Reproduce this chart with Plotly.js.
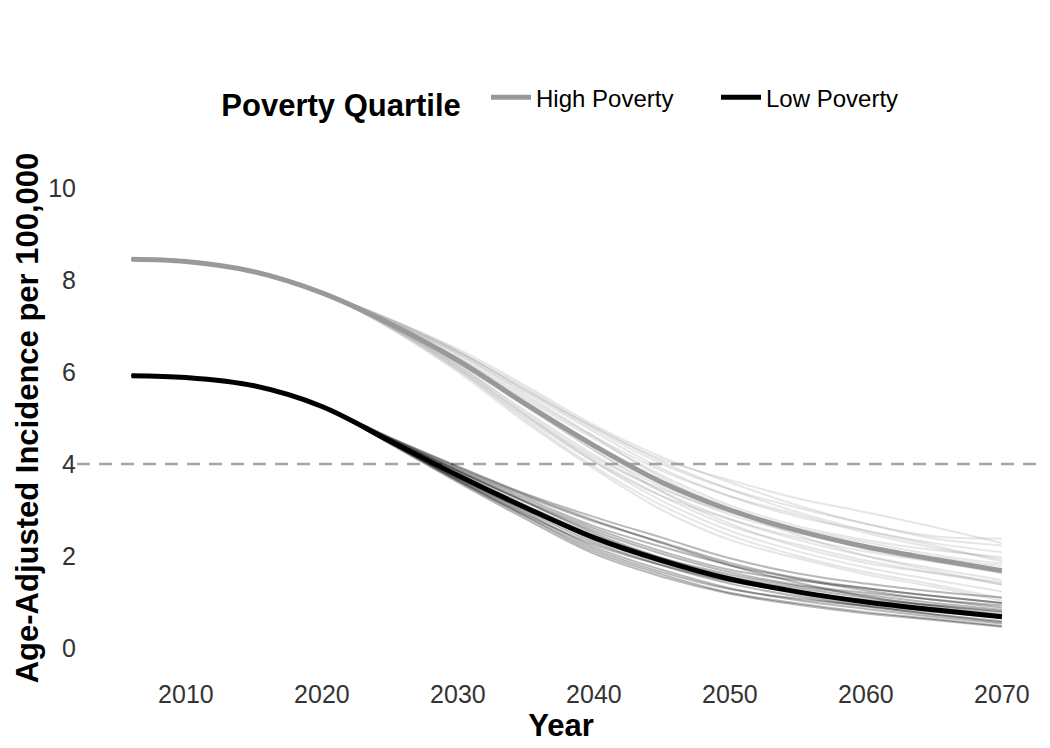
<!DOCTYPE html>
<html>
<head>
<meta charset="utf-8">
<script src="https://cdn.plot.ly/plotly-3.0.1.min.js"></script>
<style>html,body{margin:0;padding:0;background:#fff;}#chart{width:1050px;height:748px;}</style>
</head>
<body>
<div id="chart"></div>
<script>
// Years at which values are read
const years = [2006, 2010, 2015, 2020, 2025, 2030, 2035, 2040, 2045, 2050, 2055, 2060, 2065, 2070];

// Mean trajectories
const highMean = [8.45, 8.4, 8.18, 7.72, 7.05, 6.25, 5.3, 4.4, 3.6, 3.0, 2.55, 2.2, 1.93, 1.68];
const lowMean  = [5.92, 5.88, 5.7, 5.25, 4.5, 3.75, 3.05, 2.4, 1.9, 1.5, 1.22, 1.0, 0.83, 0.68];

// Individual simulation runs, High Poverty
const highRuns = [
  [8.45, 8.4, 8.18, 7.72, 7.15, 6.5, 5.7, 4.85, 4.15, 3.6, 3.1, 2.7, 2.43, 2.38],
  [8.45, 8.4, 8.18, 7.72, 7.13, 6.45, 5.6, 4.75, 4.0, 3.45, 3.05, 2.7, 2.38, 2.23],
  [8.45, 8.4, 8.18, 7.72, 7.1, 6.4, 5.55, 4.7, 3.9, 3.3, 2.85, 2.55, 2.28, 2.08],
  [8.45, 8.4, 8.18, 7.72, 7.1, 6.35, 5.45, 4.6, 3.85, 3.3, 2.9, 2.5, 2.18, 1.93],
  [8.45, 8.4, 8.18, 7.72, 7.08, 6.3, 5.4, 4.55, 3.75, 3.1, 2.65, 2.35, 2.13, 1.98],
  [8.45, 8.4, 8.18, 7.72, 7.05, 6.3, 5.35, 4.45, 3.65, 3.05, 2.55, 2.15, 1.88, 1.63],
  [8.45, 8.4, 8.18, 7.72, 7.03, 6.2, 5.25, 4.3, 3.5, 2.9, 2.5, 2.2, 1.98, 1.78],
  [8.45, 8.4, 8.18, 7.72, 7.02, 6.15, 5.15, 4.2, 3.4, 2.8, 2.35, 2.0, 1.73, 1.48],
  [8.45, 8.4, 8.18, 7.72, 7.0, 6.1, 5.05, 4.1, 3.3, 2.65, 2.25, 1.9, 1.63, 1.38],
  [8.45, 8.4, 8.18, 7.72, 7.0, 6.1, 5.05, 4.05, 3.2, 2.55, 2.1, 1.75, 1.48, 1.23],
  [8.45, 8.4, 8.18, 7.72, 6.97, 6.05, 4.95, 3.95, 3.1, 2.45, 2.0, 1.65, 1.38, 1.08],
  [8.45, 8.4, 8.18, 7.72, 6.95, 6.0, 4.9, 3.9, 3.0, 2.35, 1.95, 1.6, 1.33, 1.03],
  [8.45, 8.4, 8.18, 7.72, 7.15, 6.45, 5.65, 4.8, 4.1, 3.65, 3.25, 2.95, 2.63, 2.28],
  [8.45, 8.4, 8.18, 7.72, 7.0, 6.15, 5.1, 4.15, 3.45, 2.95, 2.6, 2.3, 2.03, 1.83],
  [8.45, 8.4, 8.18, 7.72, 7.1, 6.4, 5.5, 4.6, 3.7, 3.0, 2.45, 2.0, 1.68, 1.38],
  [8.45, 8.4, 8.18, 7.72, 7.05, 6.25, 5.25, 4.3, 3.4, 2.7, 2.2, 1.85, 1.63, 1.43],
  [8.45, 8.4, 8.18, 7.72, 7.13, 6.45, 5.6, 4.8, 4.05, 3.45, 2.95, 2.55, 2.23, 1.88],
  [8.45, 8.4, 8.18, 7.72, 6.97, 6.05, 5.0, 4.05, 3.3, 2.8, 2.4, 2.1, 1.88, 1.68]
];

// Individual simulation runs, Low Poverty
const lowRuns = [
  [5.92, 5.88, 5.7, 5.25, 4.58, 3.95, 3.35, 2.85, 2.4, 1.95, 1.62, 1.4, 1.23, 1.1],
  [5.92, 5.88, 5.7, 5.25, 4.56, 3.9, 3.3, 2.75, 2.3, 1.85, 1.52, 1.3, 1.13, 0.98],
  [5.92, 5.88, 5.7, 5.25, 4.55, 3.87, 3.25, 2.65, 2.2, 1.8, 1.5, 1.25, 1.05, 0.88],
  [5.92, 5.88, 5.7, 5.25, 4.53, 3.83, 3.17, 2.55, 2.05, 1.65, 1.37, 1.2, 1.05, 0.93],
  [5.92, 5.88, 5.7, 5.25, 4.52, 3.8, 3.1, 2.45, 1.95, 1.55, 1.3, 1.1, 0.93, 0.78],
  [5.92, 5.88, 5.7, 5.25, 4.5, 3.75, 3.05, 2.35, 1.85, 1.45, 1.22, 1.0, 0.83, 0.68],
  [5.92, 5.88, 5.7, 5.25, 4.48, 3.7, 2.97, 2.3, 1.8, 1.4, 1.12, 0.9, 0.73, 0.58],
  [5.92, 5.88, 5.7, 5.25, 4.47, 3.67, 2.93, 2.2, 1.7, 1.3, 1.04, 0.85, 0.68, 0.53],
  [5.92, 5.88, 5.7, 5.25, 4.45, 3.63, 2.85, 2.1, 1.6, 1.2, 0.97, 0.78, 0.63, 0.48],
  [5.92, 5.88, 5.7, 5.25, 4.44, 3.6, 2.8, 2.05, 1.55, 1.18, 0.94, 0.75, 0.61, 0.46],
  [5.92, 5.88, 5.7, 5.25, 4.54, 3.85, 3.2, 2.6, 2.1, 1.7, 1.47, 1.3, 1.13, 0.98],
  [5.92, 5.88, 5.7, 5.25, 4.48, 3.7, 3.0, 2.4, 1.95, 1.6, 1.34, 1.15, 0.98, 0.83],
  [5.92, 5.88, 5.7, 5.25, 4.54, 3.85, 3.17, 2.5, 1.95, 1.5, 1.17, 0.92, 0.73, 0.56],
  [5.92, 5.88, 5.7, 5.25, 4.46, 3.65, 2.9, 2.25, 1.8, 1.45, 1.22, 1.05, 0.93, 0.8],
  [5.92, 5.88, 5.7, 5.25, 4.57, 3.93, 3.33, 2.78, 2.28, 1.8, 1.42, 1.12, 0.91, 0.73],
  [5.92, 5.88, 5.7, 5.25, 4.46, 3.65, 2.87, 2.15, 1.65, 1.28, 1.07, 0.92, 0.78, 0.66]
];

const seriesNames = ["High Poverty", "Low Poverty"];
const legendTitle = "Poverty Quartile";
const xTitle = "Year";
const yTitle = "Age-Adjusted Incidence per 100,000";
const xTicks = [2010, 2020, 2030, 2040, 2050, 2060, 2070];
const yTicks = [0, 2, 4, 6, 8, 10];
const threshold = 4;

const traces = [];
highRuns.forEach(r => traces.push({
  x: years, y: r, type: 'scatter', mode: 'lines', showlegend: false, hoverinfo: 'skip',
  line: {color: 'rgba(150,150,150,0.24)', width: 2, shape: 'spline', smoothing: 1}
}));
lowRuns.forEach(r => traces.push({
  x: years, y: r, type: 'scatter', mode: 'lines', showlegend: false, hoverinfo: 'skip',
  line: {color: 'rgba(0,0,0,0.28)', width: 2, shape: 'spline', smoothing: 1}
}));
traces.push({
  x: years, y: highMean, type: 'scatter', mode: 'lines', name: seriesNames[0],
  line: {color: '#999999', width: 5, shape: 'spline', smoothing: 1}
});
traces.push({
  x: years, y: lowMean, type: 'scatter', mode: 'lines', name: seriesNames[1],
  line: {color: '#000000', width: 5, shape: 'spline', smoothing: 1}
});

const font = 'Liberation Sans, Arial, sans-serif';
const layout = {
  width: 1050, height: 748,
  paper_bgcolor: '#ffffff', plot_bgcolor: '#ffffff',
  margin: {l: 77, r: 5, t: 165, b: 77},
  font: {family: font, color: '#333333', size: 25},
  xaxis: {
    range: [2001.99, 2073.17], tickvals: xTicks, showgrid: false, zeroline: false,
    showline: false, ticks: '', automargin: false, ticklabelstandoff: 6,
    tickfont: {family: font, size: 25, color: '#333333'},
    title: {text: '<b>' + xTitle + '</b>', font: {family: font, size: 31, color: '#000000'}, standoff: 0}
  },
  yaxis: {
    range: [-0.5, 10.5], tickvals: yTicks, showgrid: false, zeroline: false,
    showline: false, ticks: '', automargin: false,
    tickfont: {family: font, size: 25, color: '#333333'},
    title: {text: '<b>' + yTitle + '</b>', font: {family: font, size: 31, color: '#000000'}, standoff: 0}
  },
  shapes: [{
    type: 'line', xref: 'paper', x0: 0, x1: 1, yref: 'y', y0: threshold, y1: threshold,
    line: {color: '#a6a6a6', width: 2.5, dash: '13px,9px'}, layer: 'below'
  }],
  legend: {
    orientation: 'h', x: 0.147, xanchor: 'left', y: 1.127, yanchor: 'middle',
    title: {text: '<b>' + legendTitle + '</b>&nbsp;&nbsp;', side: 'left', font: {family: font, size: 31, color: '#000000'}},
    font: {family: font, size: 24, color: '#000000'},
    bgcolor: 'rgba(0,0,0,0)', itemwidth: 40, traceorder: 'normal', entrywidth: 175
  },
  showlegend: true
};

Plotly.newPlot('chart', traces, layout, {displayModeBar: false, staticPlot: true});
</script>
</body>
</html>
